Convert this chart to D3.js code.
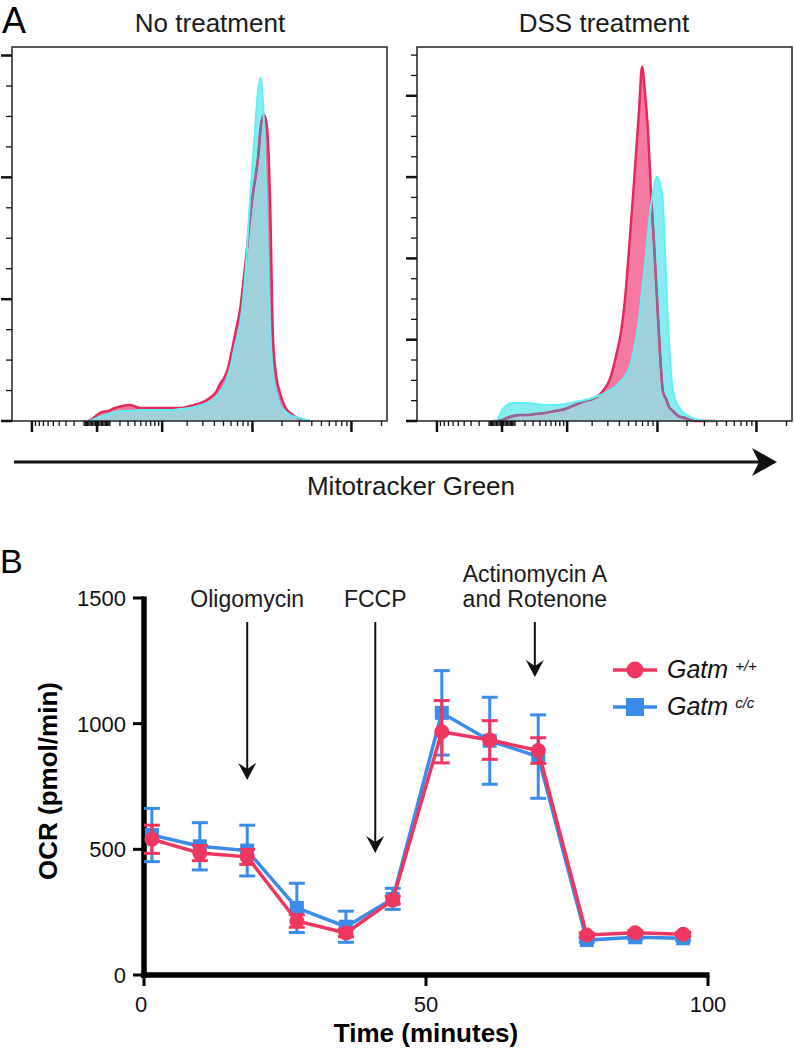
<!DOCTYPE html>
<html><head><meta charset="utf-8">
<script src="https://cdn.jsdelivr.net/npm/d3@7"></script>
<style>body{margin:0;background:#fff}svg{display:block}</style>
</head><body>
<script>
// ---------- DATA ----------
// Panel A: flow cytometry histograms (Mitotracker Green, biexponential axis)
const flowBins = [-66,-35,0,35,83,148,224,327,486,687,939,1256,1655,2158,2651,3165,3678,4164,4591,5063,5578,5985,6446,6926,7442,7995,8585,9219,9898,10627,11408,12243,13141,14100,15126,16229,17407,19112,21476,24126,27737,32630,38390];
const noTreatRed  = [0,1.6,4.9,7.4,8.2,10.7,12.3,13.1,10.7,10.7,10.7,10.7,10.7,12.3,14.0,16.4,19.7,23.8,30.4,35.3,43.5,54.2,66.6,78.9,91.2,111.8,133.9,158.6,181.6,198.0,216.1,243.2,251.4,240.8,181.6,66.6,37.8,23.0,11.5,6.6,3.3,0.8,0];
const noTreatCyan = [0,0.8,2.5,4.1,5.8,7.4,8.2,8.2,9.0,9.0,9.0,9.0,9.9,10.7,12.3,14.0,16.4,19.7,23.8,28.8,37.8,46.0,58.3,68.2,78.9,99.4,128.2,169.3,206.2,239.1,272.0,281.8,243.2,156.9,74.8,37.8,23.8,13.1,8.2,4.9,3.3,1.6,0];
const dssRed      = [0,0,1.2,3.7,6.2,7.4,7.4,8.6,9.9,12.3,14.8,19.7,24.6,28.3,36.9,51.7,80.0,110.0,150.0,211.8,277.1,327.6,381.8,435.7,402.7,355.9,279.4,217.8,150.0,82.5,35.7,27.1,17.2,13.5,9.8,6.2,4.9,3.7,1.2,0,0,0,0];
const dssCyan     = [0,1.2,13.5,19.7,22.2,22.2,22.2,20.9,19.7,19.7,20.9,23.4,25.9,29.6,33.3,38.2,43.1,49.3,55.4,64.0,82.5,101.0,125.6,160.1,193.3,232.8,264.8,289.4,300.5,291.9,267.2,174.9,94.8,45.6,27.1,18.5,13.5,8.6,4.9,2.5,1.2,0,0];
const flowTitles = ["No treatment", "DSS treatment"];
const flowCountMax = [307, 460];
const flowDomain = [-1750, 227000];
const flowMajorTicks = [-1000, 0, 1000, 10000, 100000];
const flowAxisLabel = "Mitotracker Green";

// Panel B: Seahorse OCR
const times  = [1.4, 9.9, 18.3, 27.1, 35.8, 44.1, 52.8, 61.3, 69.9, 78.5, 87.1, 95.6];
const ocrWT  = [540, 485, 470, 215, 167, 298, 968, 935, 893, 159, 168, 162];
const errWT  = [56, 30, 30, 25, 15, 15, 124, 77, 51, 8, 8, 8];
const ocrCC  = [557, 512, 495, 267, 192, 303, 1043, 932, 869, 139, 150, 146];
const errCC  = [106, 94, 101, 98, 62, 42, 168, 173, 166, 8, 8, 8];
const ocrTicks = [0, 500, 1000, 1500];
const timeTicks = [0, 50, 100];
const injectionTimes = [18.3, 41.0, 69.3];
const injectionTipOCR = [776, 485, 1186];
const injectionLabels = [["Oligomycin"], ["FCCP"], ["Actinomycin A", "and Rotenone"]];
const seriesNames = ["Gatm", "Gatm"];
const seriesSups = ["+/+", "c/c"];

// ---------- DRAW ----------
const W = 794, H = 1053;
const FONT = "'Liberation Sans', Arial, Helvetica, sans-serif";
const svg = d3.select("body").append("svg").attr("width", W).attr("height", H)
  .style("font-family", FONT);

// colours
const PINK = "#f47aa4", CYANFILL = "#86ecf2", OVERLAP = "#a0d0dc";
const REDLINE = "#e6295a", PURPLE = "#8a6b9b", CYANLINE = "#5ef0f4";

svg.append("text").attr("x", 2).attr("y", 33).attr("font-size", 36).text("A");

const boxTop = 47, boxBot = 421, boxW = 375;
const panelX0 = [12, 417];
const titleX = [210, 604];
const flowData = [[noTreatRed, noTreatCyan], [dssRed, dssCyan]];

flowData.forEach(([red, cyan], i) => {
  const x0 = panelX0[i];
  const x = d3.scaleSymlog().constant(288).domain(flowDomain).range([x0, x0 + boxW]);
  const y = d3.scaleLinear().domain([0, flowCountMax[i]]).range([boxBot, boxTop]);
  const g = svg.append("g");
  const redPts = flowBins.map((b, k) => [b, red[k]]);
  const cyanPts = flowBins.map((b, k) => [b, cyan[k]]);
  const area = d3.area().x(d => x(d[0])).y0(y(0)).y1(d => y(d[1])).curve(d3.curveMonotoneX);
  const line = d3.line().x(d => x(d[0])).y(d => y(d[1])).curve(d3.curveMonotoneX);

  const defs = g.append("defs");
  defs.append("clipPath").attr("id", "clipRed" + i).append("path").attr("d", area(redPts));
  defs.append("clipPath").attr("id", "clipCyan" + i).append("path").attr("d", area(cyanPts));

  g.append("path").attr("d", area(redPts)).attr("fill", PINK);
  g.append("path").attr("d", area(cyanPts)).attr("fill", CYANFILL);
  g.append("path").attr("d", area(cyanPts)).attr("fill", OVERLAP).attr("clip-path", `url(#clipRed${i})`);
  g.append("path").attr("d", line(redPts)).attr("fill", "none").attr("stroke", REDLINE).attr("stroke-width", 2.5);
  g.append("path").attr("d", line(redPts)).attr("fill", "none").attr("stroke", PURPLE).attr("stroke-width", 2)
    .attr("clip-path", `url(#clipCyan${i})`);
  g.append("path").attr("d", line(cyanPts)).attr("fill", "none").attr("stroke", CYANLINE).attr("stroke-width", 2);

  // box
  g.append("rect").attr("x", x0).attr("y", boxTop).attr("width", boxW).attr("height", boxBot - boxTop)
    .attr("fill", "none").attr("stroke", "#222").attr("stroke-width", 1.5);

  // y ticks
  const yMajor = d3.range(0, flowCountMax[i] + 1, 100);
  const yMinor = d3.range(25, flowCountMax[i], 25).filter(v => v % 100 !== 0);
  yMajor.forEach(v => g.append("line").attr("x1", x0 - 11).attr("x2", x0).attr("y1", y(v)).attr("y2", y(v))
    .attr("stroke", "#111").attr("stroke-width", 2.5));
  yMinor.forEach(v => g.append("line").attr("x1", x0 - 6).attr("x2", x0).attr("y1", y(v)).attr("y2", y(v))
    .attr("stroke", "#111").attr("stroke-width", 1.3));

  // x ticks (biexponential)
  const minor = [].concat(
    d3.range(-900, -99, 100), d3.range(-90, -9, 10), d3.range(10, 91, 10),
    d3.range(100, 901, 100), d3.range(2000, 9001, 1000), d3.range(20000, 90001, 10000), [200000]);
  minor.forEach(v => g.append("line").attr("x1", x(v)).attr("x2", x(v)).attr("y1", boxBot).attr("y2", boxBot + 5)
    .attr("stroke", "#111").attr("stroke-width", 1.3));
  flowMajorTicks.forEach(v => g.append("line").attr("x1", x(v)).attr("x2", x(v)).attr("y1", boxBot).attr("y2", boxBot + 11)
    .attr("stroke", "#111").attr("stroke-width", 2.5));

  svg.append("text").attr("x", titleX[i]).attr("y", 32).attr("text-anchor", "middle")
    .attr("font-size", 26).attr("fill", "#1a1a1a").text(flowTitles[i]);
});

// big arrow
svg.append("line").attr("x1", 14).attr("x2", 760).attr("y1", 462).attr("y2", 462)
  .attr("stroke", "#111").attr("stroke-width", 3);
svg.append("path").attr("d", "M777,462 L752,448 L759,462 L752,476 Z").attr("fill", "#111");
svg.append("text").attr("x", 411).attr("y", 495).attr("text-anchor", "middle").attr("font-size", 26)
  .attr("fill", "#1a1a1a").text(flowAxisLabel);

// ---------- Panel B ----------
svg.append("text").attr("x", 0).attr("y", 573).attr("font-size", 34).text("B");

const xB = d3.scaleLinear().domain([0, 100]).range([144, 708]);
const yB = d3.scaleLinear().domain([0, 1500]).range([975, 598]);
const gB = svg.append("g");

// axes
gB.append("line").attr("x1", xB(0)).attr("x2", xB(0)).attr("y1", yB(1500) - 1.5).attr("y2", yB(0) + 2.75)
  .attr("stroke", "#000").attr("stroke-width", 5.5);
gB.append("line").attr("x1", xB(0) - 2.75).attr("x2", xB(100) + 1.5).attr("y1", yB(0)).attr("y2", yB(0))
  .attr("stroke", "#000").attr("stroke-width", 5.5);
ocrTicks.forEach(v => {
  gB.append("line").attr("x1", 133).attr("x2", xB(0)).attr("y1", yB(v)).attr("y2", yB(v))
    .attr("stroke", "#000").attr("stroke-width", 3);
  gB.append("text").attr("x", 126).attr("y", yB(v)).attr("dy", "0.36em").attr("text-anchor", "end")
    .attr("font-size", 22).attr("fill", "#111").text(v);
});
timeTicks.forEach(v => {
  gB.append("line").attr("x1", xB(v)).attr("x2", xB(v)).attr("y1", yB(0)).attr("y2", 986)
    .attr("stroke", "#000").attr("stroke-width", 3);
  gB.append("text").attr("x", xB(v) - (v === 0 ? 3 : 0)).attr("y", 1012).attr("text-anchor", "middle")
    .attr("font-size", 22).attr("fill", "#111").text(v);
});
gB.append("text").attr("x", 426).attr("y", 1042).attr("text-anchor", "middle").attr("font-size", 26)
  .attr("font-weight", "bold").text("Time (minutes)");
gB.append("text").attr("transform", "translate(57,781) rotate(-90)").attr("text-anchor", "middle")
  .attr("font-size", 26).attr("font-weight", "bold").text("OCR (pmol/min)");

// injection annotations
injectionTimes.forEach((t, i) => {
  const ax = xB(t), tip = yB(injectionTipOCR[i]);
  gB.append("line").attr("x1", ax).attr("x2", ax).attr("y1", 622).attr("y2", tip - 8)
    .attr("stroke", "#111").attr("stroke-width", 2);
  gB.append("path").attr("d", `M${ax},${tip} L${ax - 9},${tip - 17} L${ax},${tip - 11} L${ax + 9},${tip - 17} Z`)
    .attr("fill", "#111");
  const lines = injectionLabels[i];
  lines.forEach((s, j) => {
    gB.append("text").attr("x", ax).attr("y", 607 - (lines.length - 1 - j) * 25).attr("text-anchor", "middle")
      .attr("font-size", 23).attr("fill", "#1a1a1a").text(s);
  });
});

// series
const RED = "#ee3760", BLUE = "#3a8ce8";
const series = [
  {v: ocrCC, e: errCC, color: BLUE, shape: "square"},
  {v: ocrWT, e: errWT, color: RED, shape: "circle"}
];
series.forEach(s => {
  const g = gB.append("g");
  const pts = times.map((t, k) => [t, s.v[k], s.e[k]]);
  pts.forEach(d => {
    const cx = xB(d[0]), yt = yB(d[1] + d[2]), yb = yB(d[1] - d[2]);
    g.append("line").attr("x1", cx).attr("x2", cx).attr("y1", yt).attr("y2", yb).attr("stroke", s.color).attr("stroke-width", 3);
    [yt, yb].forEach(yy => g.append("line").attr("x1", cx - 8).attr("x2", cx + 8).attr("y1", yy).attr("y2", yy)
      .attr("stroke", s.color).attr("stroke-width", 3));
  });
  g.append("path").attr("d", d3.line().x(d => xB(d[0])).y(d => yB(d[1]))(pts))
    .attr("fill", "none").attr("stroke", s.color).attr("stroke-width", 3.5);
  pts.forEach(d => {
    if (s.shape === "circle") g.append("circle").attr("cx", xB(d[0])).attr("cy", yB(d[1])).attr("r", 7.5).attr("fill", s.color);
    else g.append("rect").attr("x", xB(d[0]) - 7).attr("y", yB(d[1]) - 7).attr("width", 14).attr("height", 14).attr("fill", s.color);
  });
});

// legend
const legY = [670, 707];
[RED, BLUE].forEach((c, i) => {
  const y = legY[i];
  svg.append("line").attr("x1", 613).attr("x2", 657).attr("y1", y).attr("y2", y).attr("stroke", c).attr("stroke-width", 3.5);
  if (i === 0) svg.append("circle").attr("cx", 635).attr("cy", y).attr("r", 8.5).attr("fill", c);
  else svg.append("rect").attr("x", 626).attr("y", y - 9).attr("width", 18).attr("height", 18).attr("fill", c);
  const t = svg.append("text").attr("x", 667).attr("y", y + 8).attr("font-size", 25).attr("font-style", "italic").attr("fill", "#111");
  t.append("tspan").text(seriesNames[i]);
  t.append("tspan").attr("dx", 7).attr("dy", -7).attr("font-size", 15).text(seriesSups[i]);
});
</script>
</body></html>
